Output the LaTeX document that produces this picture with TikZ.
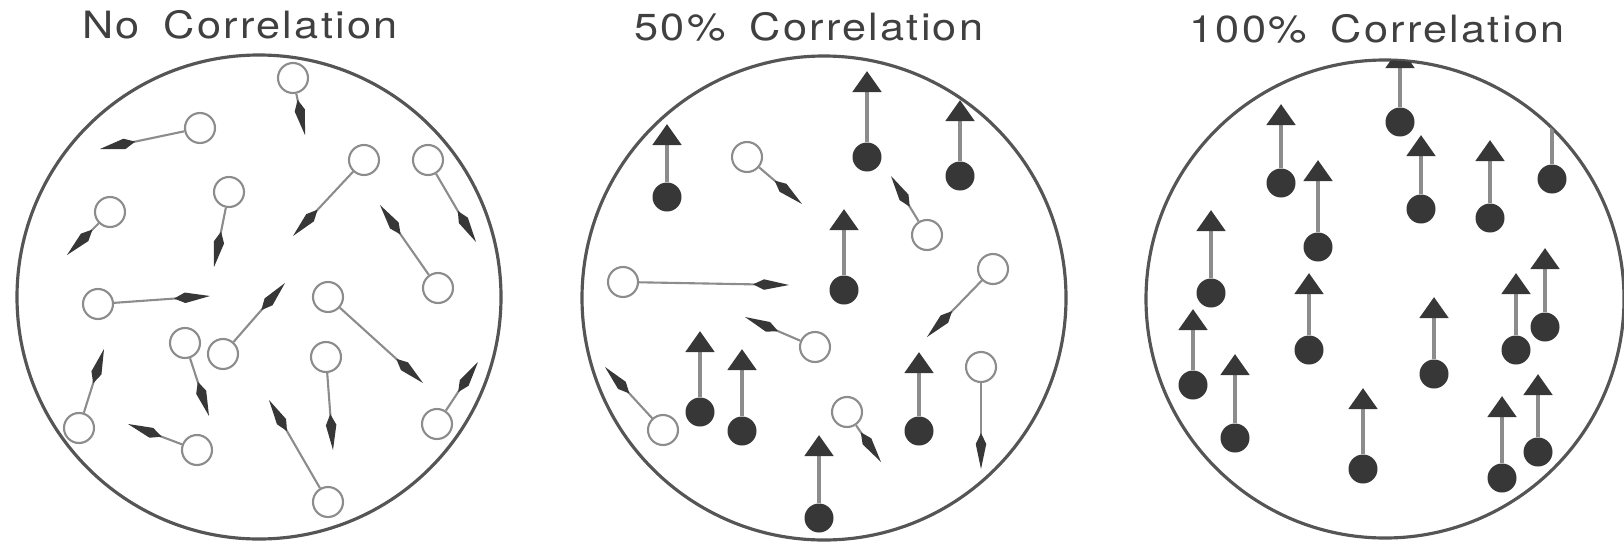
\documentclass[tikz,border=0pt]{standalone}
\usepackage{fontspec}
\newfontfamily\titlefont{TeX Gyre Heros}[FakeStretch=1.15,LetterSpace=6]
\usetikzlibrary{arrows.meta}
\definecolor{ringc}{RGB}{85,85,85}
\definecolor{stemc}{RGB}{140,140,140}
\definecolor{headc}{RGB}{55,55,55}
\tikzset{
  field/.style={circle,draw=ringc,line width=0.9pt,minimum size=48.4mm,inner sep=0pt},
  free/.style={circle,draw=stemc,line width=0.6pt,fill=white,minimum size=3mm,inner sep=0pt},
  bound/.style={circle,fill=headc,minimum size=2.9mm,inner sep=0pt},
  spin/.style={-{Kite[length=3.6mm,width=1.05mm,inset=1.1mm,color=headc]},line width=0.6pt,stemc},
  upspin/.style={-{Triangle[length=2.1mm,width=2.8mm,color=headc]},line width=1.4pt,stemc},
  title/.style={font=\titlefont\fontsize{10.7}{12}\selectfont,text=black!75,anchor=base,inner sep=0pt},
}

\begin{document}
\begin{tikzpicture}[x=0.1mm,y=-0.1mm]
  \useasboundingbox (0,0) rectangle (1624,548);
  \node[title] (t1) at (240,38) {No\hspace{2.4mm}Correlation};
  \node[title] (t2) at (809,41) {50\%\hspace{2.4mm}Correlation};
  \node[title] (t3) at (1377,43) {100\%\hspace{2.4mm}Correlation};

  \node[field] (f1) at (259,297) {};
  \node[field] (f2) at (824,298) {};
  \node[field,minimum size=47.8mm] (f3) at (1385,299) {};

  % no correlation
  \foreach \bx/\by/\tx/\ty [count=\i] in {293/78/305/135, 200/128/100/149,
      364/160/293/236, 428/160/476/242, 229/192/214/267, 110/212/67/255,
      438/288/380/205, 98/304/210/296, 223/354/285/283, 328/297/423/383,
      185/343/209/416, 326/357/333/450, 79/428/104/349, 197/450/128/424,
      328/502/269/400, 437/424/478/362}{
    \node[free] (a\i) at (\bx,\by) {};
    \coordinate (ta\i) at (\tx,\ty);
    \draw[spin] (a\i) -- (ta\i);
  }

  % 50% correlation
  \foreach \bx/\by/\tx/\ty [count=\i] in {747/157/802/204, 927/235/891/176,
      623/282/789/285, 993/269/927/337, 815/347/745/317, 663/430/605/367,
      847/412/881/462, 981/367/981/469}{
    \node[free] (b\i) at (\bx,\by) {};
    \coordinate (tb\i) at (\tx,\ty);
    \draw[spin] (b\i) -- (tb\i);
  }
  \foreach \bx/\by/\ty [count=\i] in {667/197/124, 867/157/71, 960/176/100,
      844/290/209, 700/412/331, 742/431/349, 919/431/352, 819/518/435}{
    \node[bound] (c\i) at (\bx,\by) {};
    \coordinate (tc\i) at (\bx,\ty);
    \draw[upspin] (c\i) -- (tc\i);
  }

  % 100% correlation
  \begin{scope}
    \clip (f3.center) circle (23.85mm);
    \foreach \bx/\by/\ty [count=\i] in {1400/122/47, 1281/183/104, 1318/247/160,
        1421/209/135, 1490/218/140, 1552/179/95, 1211/293/210, 1193/385/309,
        1235/438/354, 1309/350/273, 1363/469/388, 1434/374/297, 1516/350/273,
        1545/327/248, 1502/478/396, 1538/452/374}{
      \node[bound] (d\i) at (\bx,\by) {};
      \coordinate (td\i) at (\bx,\ty);
      \draw[upspin] (d\i) -- (td\i);
    }
  \end{scope}
\end{tikzpicture}
\end{document}
